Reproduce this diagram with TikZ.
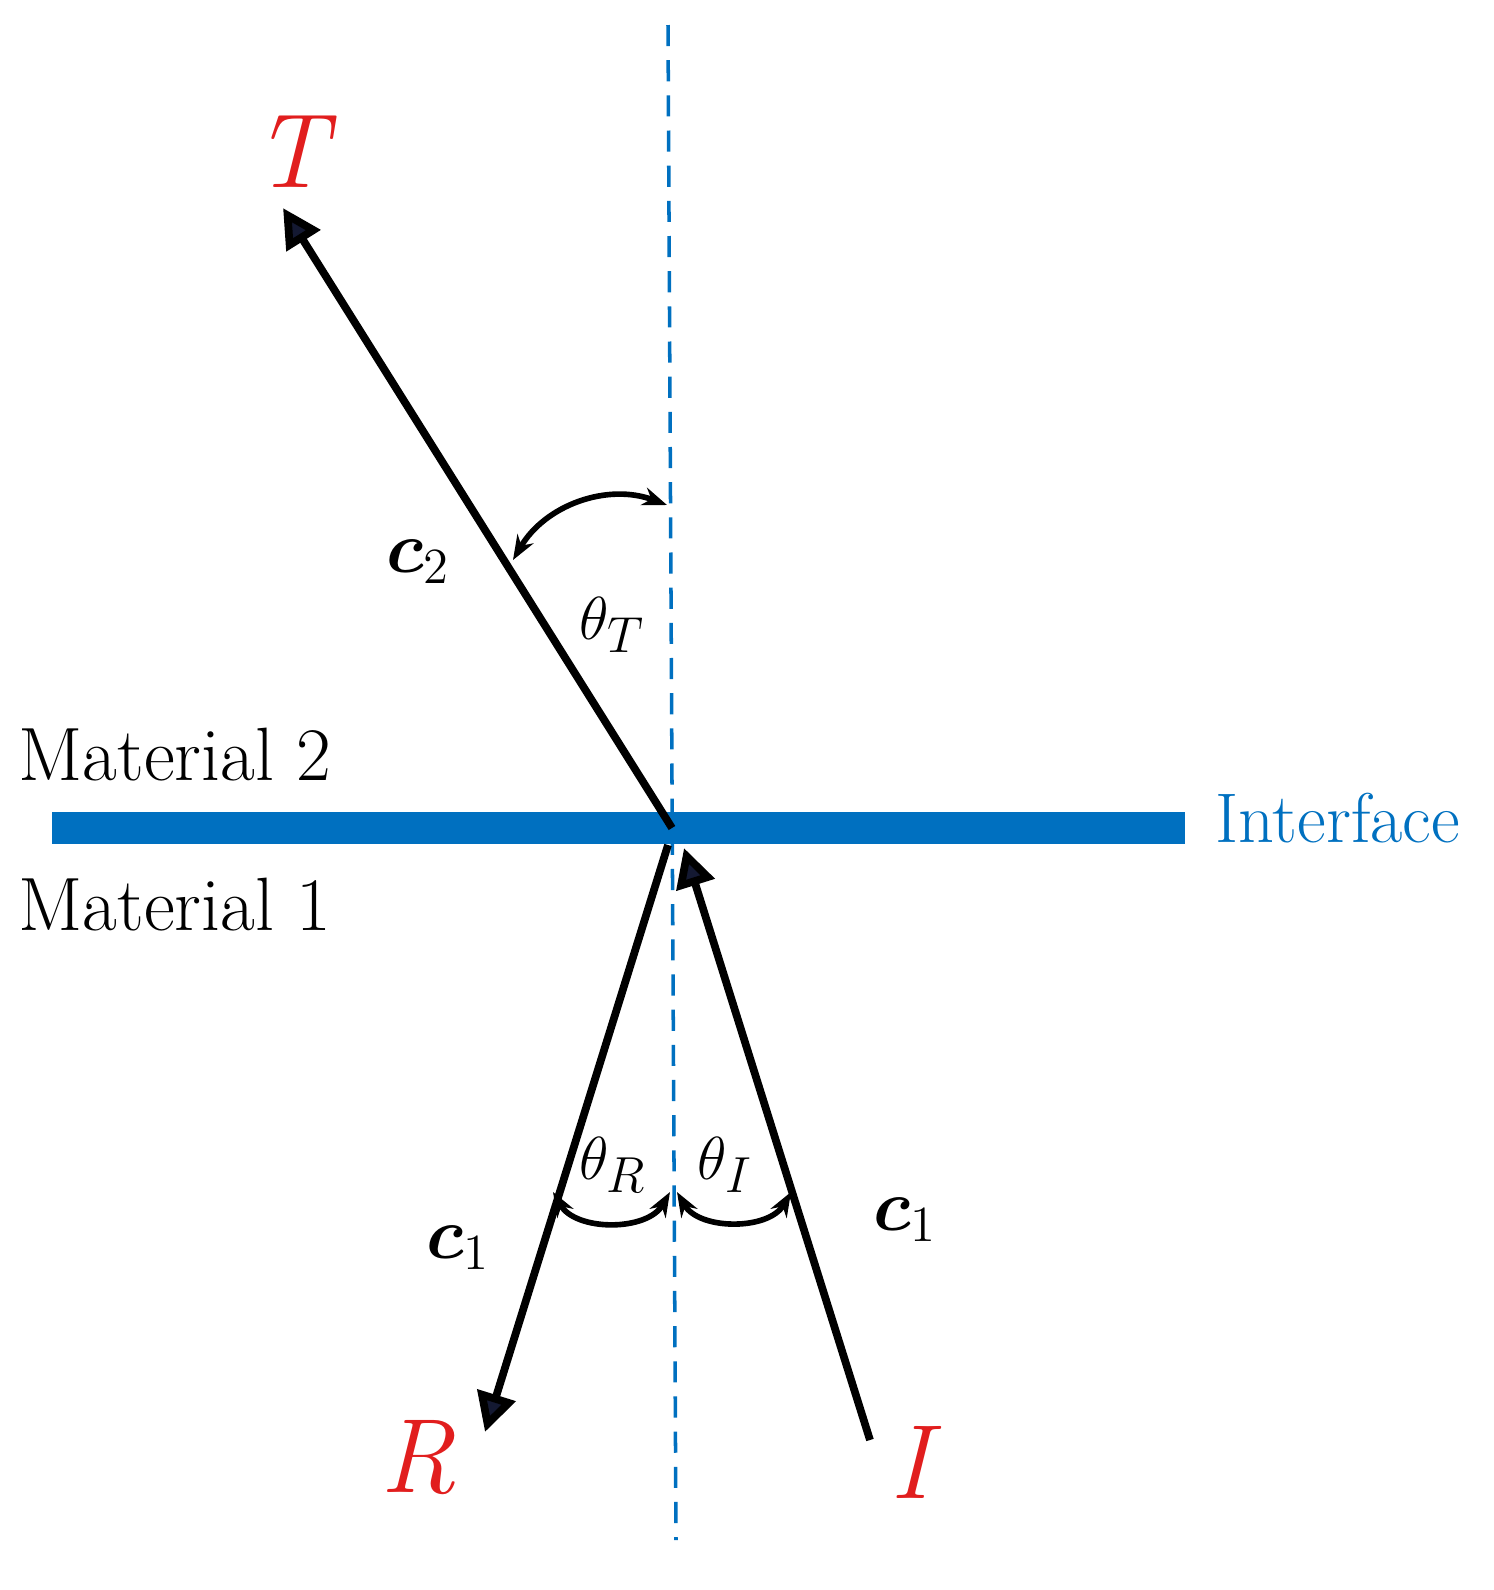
\documentclass[tikz,border=0pt]{standalone}
\usepackage{amsmath,bm}
\usetikzlibrary{arrows.meta}
\definecolor{ifblue}{RGB}{0,112,192}
\definecolor{lblred}{RGB}{225,30,30}
\definecolor{tipnavy}{RGB}{20,25,50}
\begin{document}
\begin{tikzpicture}[x=0.01cm,y=-0.01cm,
    ray/.style={line width=2.2pt, black},
    tip/.style={-{Triangle[length=11pt,width=11pt,fill=tipnavy]}},
    ang/.style={line width=1.6pt, {Stealth[length=7pt]}-{Stealth[length=7pt]}},
    lbl/.style={text=lblred, font=\fontsize{30}{32}\selectfont\itshape},
    mat/.style={font=\fontsize{21.5}{24}\selectfont},
    cc/.style={font=\fontsize{22}{24}\selectfont},
    th/.style={font=\fontsize{19}{22}\selectfont}]
  \useasboundingbox (0,0) rectangle (1494,1590);
  % normal and interface
  \coordinate (top) at (668,25);
  \coordinate (bot) at (676,1540);
  \coordinate (O) at (672,828);
  \draw[ifblue, line width=1pt, dash pattern=on 6pt off 4pt] (top) -- (bot);
  \coordinate (ifl) at (52,828);
  \coordinate (ifr) at (1185,828);
  \draw[ifblue, line width=9pt] (ifl) -- (ifr);
  \node[text=ifblue, font=\fontsize{20}{22}\selectfont, anchor=west] (iface) at (1203,818) {Interface};
  \node[mat, anchor=west] (m2) at (6,755) {Material 2};
  \node[mat, anchor=west] (m1) at (6,905) {Material 1};
  % rays
  \coordinate (Tend) at (283,208);
  \coordinate (Istart) at (870,1440);
  \coordinate (Iend) at (684,848);
  \coordinate (Rstart) at (668,845);
  \coordinate (Rend) at (485,1432);
  \draw[ray, tip] (O) -- (Tend);
  \draw[ray, tip] (Istart) -- (Iend);
  \draw[ray, tip] (Rstart) -- (Rend);
  \node[lbl] (T) at (290,152) {T};
  \node[lbl] (R) at (418,1458) {R};
  \node[lbl] (I) at (910,1462) {I};
  % angles
  \coordinate (aT1) at (513,560);
  \coordinate (aT2) at (667,505);
  \draw[ang] (aT1) to[bend left=40] (aT2);
  \coordinate (aR1) at (553,1192);
  \coordinate (aR2) at (670,1192);
  \draw[ang] (aR1) to[bend right=60] (aR2);
  \coordinate (aI1) at (677,1192);
  \coordinate (aI2) at (791,1192);
  \draw[ang] (aI1) to[bend right=60] (aI2);
  \node[th] (thT) at (612,625) {$\theta_T$};
  \node[th] (thR) at (613,1165) {$\theta_R$};
  \node[th] (thI) at (725,1165) {$\theta_I$};
  \node[cc] (c2) at (418,562) {$\bm{c}_2$};
  \node[cc] (c1l) at (458,1248) {$\bm{c}_1$};
  \node[cc] (c1r) at (905,1220) {$\bm{c}_1$};
\end{tikzpicture}
\end{document}
